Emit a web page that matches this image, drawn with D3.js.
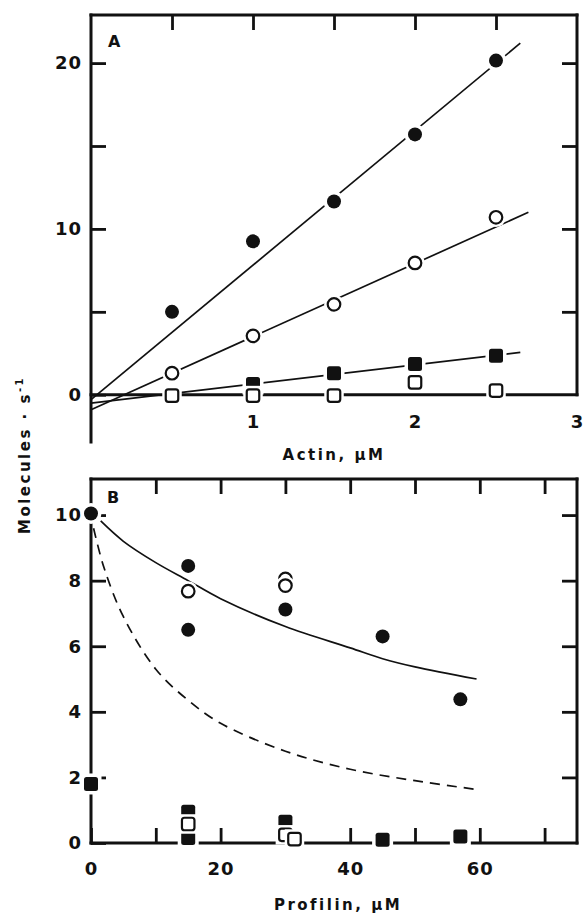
<html>
  <head>
    <meta charset="utf-8">
    <script src="https://cdn.jsdelivr.net/npm/d3@7/dist/d3.min.js"></script>
    <style>
      body {
        margin: 0px;
        background: #fff;
      }
      text {
        font-family: 'DejaVu Sans', sans-serif;
        font-weight: bold;
        fill: #111;
      }
      .axis .domain {
        display: none;
      }
      .axis .tick line {
        stroke: #111;
        stroke-width: 2.8px;
      }
      .axis .tick text {
        font-size: 18px;
        letter-spacing: 1px;
      }
      .frame {
        stroke: #111;
        stroke-width: 3px;
        fill: none;
        stroke-linecap: square;
      }
      .fit {
        stroke: #111;
        stroke-width: 1.7px;
        fill: none;
      }
      .dashed {
        stroke-dasharray: 10 7;
      }
      .title {
        font-size: 15px;
        letter-spacing: 2.5px;
      }
      .panel-label {
        font-size: 16px;
      }
    </style>
  </head>
  <body>
    <svg width="587" height="913"></svg>
    <script>
      // panel A : rate vs actin (uM)
      var aFilledCircles = [[0.5, 5.0], [1, 9.25], [1.5, 11.65], [2, 15.7], [2.5, 20.15]];
      var aOpenCircles = [[0.5, 1.3], [1, 3.55], [1.5, 5.45], [2, 7.95], [2.5, 10.7]];
      var aFilledSquares = [[1, 0.65], [1.5, 1.3], [2, 1.85], [2.5, 2.35]];
      var aOpenSquares = [[0.5, -0.05], [1, -0.05], [1.5, -0.05], [2, 0.75], [2.5, 0.25]];
      var aFitFilledCircles = [[0, -0.3], [2.65, 21.2]];
      var aFitOpenCircles = [[0, -0.9], [2.7, 11.0]];
      var aFitFilledSquares = [[0, -0.5], [2.65, 2.55]];
      var aYTicks = [0, 5, 10, 15, 20];
      var aXLabels = [1, 2, 3];
      var aTopTicks = [0.5, 1, 1.5, 2, 2.5];

      // panel B : rate vs profilin (uM)
      var bFilledCircles = [[0, 10.05], [15, 8.45], [15, 6.5], [30, 7.12], [45, 6.3], [57, 4.38]];
      var bOpenCircles = [[15, 7.68], [30, 8.05], [30, 7.85]];
      var bFilledSquares = [[0, 1.8], [15, 0.95], [15, 0.15], [30, 0.65], [45, 0.1], [57, 0.2]];
      var bOpenSquares = [[15, 0.58], [30, 0.25], [31.4, 0.12]];
      var bSolidCurve = [[1.5, 9.82], [5, 9.2], [10, 8.55], [15, 8.0], [20, 7.45], [30, 6.6],
        [40, 5.95], [45, 5.62], [50, 5.37], [59.5, 5.0]];
      var bDashedCurve = [[0.4, 9.6], [2, 8.4], [5, 6.9], [10, 5.3], [15, 4.35], [20, 3.65],
        [30, 2.8], [40, 2.25], [50, 1.9], [60, 1.62]];
      var bYTicks = [0, 2, 4, 6, 8, 10];
      var bXTicks = [0, 10, 20, 30, 40, 50, 60, 70];

      var svg = d3.select('svg');

      var xA = d3.scaleLinear().domain([0, 3]).range([91, 577]);
      var yA = d3.scaleLinear().domain([-2.85, 22.9]).range([442, 15]);
      var xB = d3.scaleLinear().domain([0, 75]).range([91, 577]);
      var yB = d3.scaleLinear().domain([0, 11.1]).range([843, 479]);

      var gA = svg.append('g');
      var gB = svg.append('g');

      function frame(g, x, y, segs) {
        var line = d3.line().x(d => x(d[0])).y(d => y(d[1]));
        g.selectAll('path.frame').data(segs)
          .enter().append('path')
            .attr('class', 'frame')
            .attr('d', line);
      }

      function axis(g, ax, tx, ty) {
        g.append('g')
          .attr('class', 'axis')
          .attr('transform', `translate(${tx},${ty})`)
          .call(ax);
      }

      function fit(g, x, y, pts, cls, curve) {
        g.append('path')
          .attr('class', 'fit ' + (cls || ''))
          .attr('d', d3.line().x(d => x(d[0])).y(d => y(d[1])).curve(curve || d3.curveLinear)(pts));
      }

      function markers(g, x, y, data, shape, filled) {
        var s = g.append('g');
        data.forEach(function (d) {
          var cx = x(d[0]), cy = y(d[1]);
          if (shape === 'circle') {
            var r = filled ? 7 : 6.3;
            s.append('circle').attr('cx', cx).attr('cy', cy).attr('r', r + 3.5).attr('fill', '#fff');
            s.append('circle').attr('cx', cx).attr('cy', cy).attr('r', r)
              .attr('fill', filled ? '#111' : '#fff')
              .attr('stroke', '#111').attr('stroke-width', filled ? 0 : 2.2);
          } else {
            var w = filled ? 14 : 12.5;
            s.append('rect').attr('x', cx - w / 2 - 3.5).attr('y', cy - w / 2 - 3.5)
              .attr('width', w + 7).attr('height', w + 7).attr('fill', '#fff');
            s.append('rect').attr('x', cx - w / 2).attr('y', cy - w / 2)
              .attr('width', w).attr('height', w).attr('rx', 2.5)
              .attr('fill', filled ? '#111' : '#fff')
              .attr('stroke', '#111').attr('stroke-width', filled ? 0 : 2.2);
          }
        });
      }

      var fmt = d3.format('d');
      var smooth = d3.curveCatmullRom.alpha(0.5);

      // ---- panel A ----
      frame(gA, xA, yA, [
        [[0, -2.85], [0, 22.9]],
        [[0, 22.9], [3, 22.9]],
        [[3, 22.9], [3, 0]],
        [[0, 0], [3, 0]]
      ]);
      axis(gA, d3.axisLeft(yA).tickValues(aYTicks).tickSize(-15).tickPadding(9)
        .tickFormat(d => d % 10 === 0 ? fmt(d) : ''), xA(0), 0);
      axis(gA, d3.axisRight(yA).tickValues(aYTicks.slice(1)).tickSize(-15).tickFormat(''), xA(3), 0);
      axis(gA, d3.axisTop(xA).tickValues(aTopTicks).tickSize(-15).tickFormat(''), 0, yA(22.9));
      axis(gA, d3.axisBottom(xA).tickValues(aXLabels).tickSize(0).tickPadding(20).tickFormat(fmt), 0, yA(0));

      fit(gA, xA, yA, aFitFilledCircles);
      fit(gA, xA, yA, aFitOpenCircles);
      fit(gA, xA, yA, aFitFilledSquares);

      markers(gA, xA, yA, aFilledSquares, 'square', true);
      markers(gA, xA, yA, aOpenSquares, 'square', false);
      markers(gA, xA, yA, aOpenCircles, 'circle', false);
      markers(gA, xA, yA, aFilledCircles, 'circle', true);

      gA.append('text').attr('class', 'panel-label').attr('x', 108).attr('y', 47).text('A');
      gA.append('text').attr('class', 'title')
        .attr('x', 334).attr('y', 460).attr('text-anchor', 'middle')
        .text('Actin, μM');

      // ---- panel B ----
      frame(gB, xB, yB, [
        [[0, 0], [0, 11.1]],
        [[0, 11.1], [75, 11.1]],
        [[75, 11.1], [75, 0]],
        [[0, 0], [75, 0]]
      ]);
      axis(gB, d3.axisLeft(yB).tickValues(bYTicks).tickSize(-15).tickPadding(9).tickFormat(fmt), xB(0), 0);
      axis(gB, d3.axisRight(yB).tickValues(bYTicks.slice(1)).tickSize(-15).tickFormat(''), xB(75), 0);
      axis(gB, d3.axisTop(xB).tickValues(bXTicks.slice(1)).tickSize(-15).tickFormat(''), 0, yB(11.1));
      axis(gB, d3.axisBottom(xB).tickValues(bXTicks).tickSize(-15).tickPadding(19)
        .tickFormat(d => d % 20 === 0 ? fmt(d) : ''), 0, yB(0));

      fit(gB, xB, yB, bSolidCurve, '', smooth);
      fit(gB, xB, yB, bDashedCurve, 'dashed', smooth);

      markers(gB, xB, yB, bFilledSquares, 'square', true);
      markers(gB, xB, yB, bOpenSquares, 'square', false);
      markers(gB, xB, yB, bFilledCircles, 'circle', true);
      markers(gB, xB, yB, bOpenCircles, 'circle', false);

      gB.append('text').attr('class', 'panel-label').attr('x', 107).attr('y', 503).text('B');
      gB.append('text').attr('class', 'title')
        .attr('x', 338).attr('y', 910).attr('text-anchor', 'middle')
        .text('Profilin, μM');

      // shared y title
      var yt = svg.append('text').attr('class', 'title')
        .attr('transform', 'translate(30,455) rotate(-90)')
        .attr('text-anchor', 'middle');
      yt.append('tspan').text('Molecules · s');
      yt.append('tspan').attr('dy', -7).style('font-size', '10px').text('-1');
    </script>
  </body>
</html>
